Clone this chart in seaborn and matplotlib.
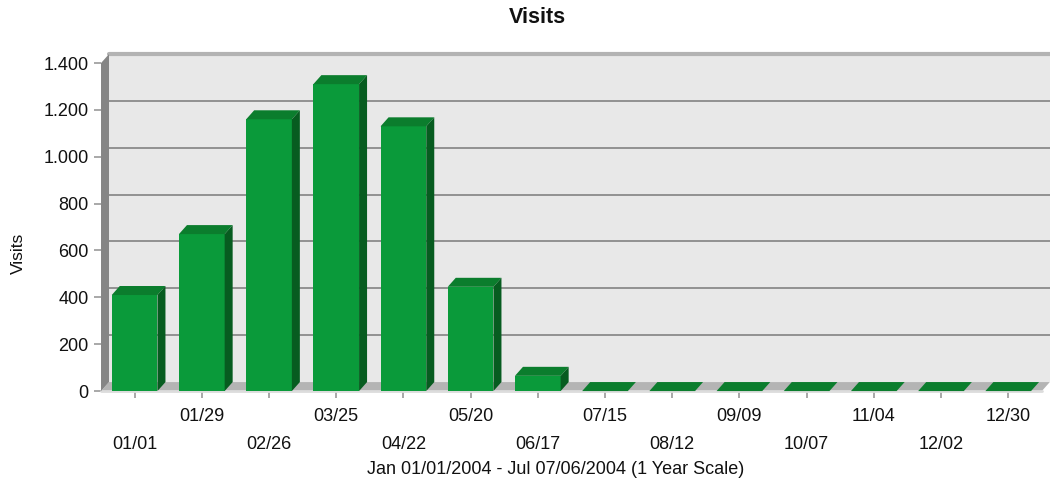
import matplotlib
matplotlib.use("Agg")
import matplotlib.pyplot as plt
import seaborn as sns
from matplotlib.patches import Polygon, Rectangle
from matplotlib.ticker import FuncFormatter
from matplotlib.transforms import ScaledTranslation

# data
dates = ["01/01", "01/29", "02/26", "03/25", "04/22", "05/20", "06/17",
         "07/15", "08/12", "09/09", "10/07", "11/04", "12/02", "12/30"]
visits = [410, 670, 1160, 1310, 1130, 445, 65, 0, 0, 0, 0, 0, 0, 0]
y_ticks = [0, 200, 400, 600, 800, 1000, 1200, 1400]

sns.set_theme(style="white")
plt.rcParams["font.family"] = ["Liberation Sans", "DejaVu Sans"]

W, H, DPI = 10.5, 4.87, 100
fig = plt.figure(figsize=(W, H), dpi=DPI)
pos = [0.0962, 0.197, 0.896, 0.6735]
ax = fig.add_axes(pos)
ax.patch.set_visible(False)

# depth of the fake 3d walls, in pixels
DX, DY = 8, 9
dxa = DX / (pos[2] * W * DPI)
dya = DY / (pos[3] * H * DPI)

sns.barplot(x=dates, y=visits, color="#0a9a3a", saturation=1, width=0.68,
            linewidth=0, ax=ax, zorder=3)
ax.set_xlim(-0.5, len(dates) - 0.5)
ax.set_ylim(0, 1400)

# back wall, floor, left wall
ax.add_patch(Rectangle((dxa, dya), 1, 1, transform=ax.transAxes, fc="#e8e8e8",
                       ec="none", zorder=0, clip_on=False))
ax.plot([dxa, 1 + dxa], [1 + dya, 1 + dya], transform=ax.transAxes,
        color="#b3b3b3", lw=3, zorder=1, clip_on=False)
ax.add_patch(Polygon([(0, 0), (1, 0), (1 + dxa, dya), (dxa, dya)],
                     transform=ax.transAxes, fc="#b4b4b4", ec="none",
                     zorder=1, clip_on=False))
ax.plot([0, 1], [0, 0], transform=ax.transAxes, color="#dcdcdc", lw=2,
        zorder=1, clip_on=False)
ax.add_patch(Polygon([(0, 0), (dxa, dya), (dxa, 1 + dya), (0, 1)],
                     transform=ax.transAxes, fc="#858585", ec="none",
                     zorder=2, clip_on=False))

# gridlines drawn on the back wall
back = ax.get_yaxis_transform() + ScaledTranslation(DX / DPI, DY / DPI, fig.dpi_scale_trans)
for v in y_ticks[1:-1]:
    ax.plot([0, 1], [v, v], transform=back, color="#8a8a8a", lw=1.3,
            zorder=1, clip_on=False)

# top and side faces of every bar
x0, x1 = ax.get_xlim()
y0, y1 = ax.get_ylim()
ddx = dxa * (x1 - x0)
ddy = dya * (y1 - y0)
for p in ax.containers[0]:
    x, w, h = p.get_x(), p.get_width(), p.get_height()
    ax.add_patch(Polygon([(x, h), (x + w, h), (x + w + ddx, h + ddy), (x + ddx, h + ddy)],
                         fc="#0b7d2d", ec="none", zorder=4, clip_on=False))
    ax.add_patch(Polygon([(x + w, 0), (x + w + ddx, ddy), (x + w + ddx, h + ddy), (x + w, h)],
                         fc="#075c20", ec="none", zorder=4, clip_on=False))

for s in ax.spines.values():
    s.set_visible(False)

ax.set_yticks(y_ticks)
ax.yaxis.set_major_formatter(FuncFormatter(lambda v, _: f"{int(v):,}".replace(",", ".")))
ax.set_xticks(range(len(dates)),
              labels=[d if i % 2 else "\n" + d for i, d in enumerate(dates)])
for t in ax.get_xticklabels():
    t.set_linespacing(1.9)
ax.tick_params(axis="x", bottom=True, length=5, width=1.2, color="#9a9a9a",
               pad=7, labelsize=13, labelcolor="#111111")
ax.tick_params(axis="y", left=True, length=5, width=1.2, color="#9a9a9a",
               pad=4, labelsize=13, labelcolor="#111111")

ax.set_xlabel("Jan 01/01/2004 - Jul 07/06/2004 (1 Year Scale)", fontsize=13,
              color="#111111", va="center")
ax.xaxis.set_label_coords(0.483, -0.24)
ax.set_ylabel("Visits", fontsize=12.5, color="#111111")
ax.yaxis.set_label_coords(-0.08, 0.42)

fig.text(0.512, 0.965, "Visits", ha="center", va="center", fontsize=15.5,
         fontweight="bold", color="#111111")

fig.savefig("out.png", dpi=DPI)
